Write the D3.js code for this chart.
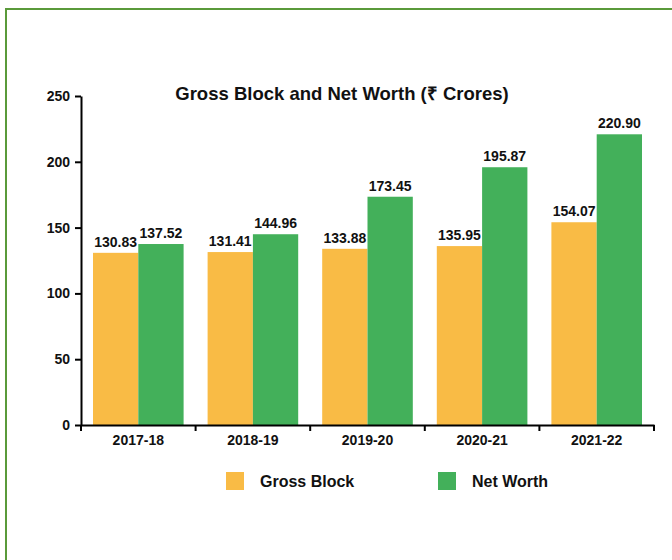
<!DOCTYPE html>
<html>
<head>
<meta charset="utf-8">
<script src="https://cdn.jsdelivr.net/npm/d3@7"></script>
<style>
  body { margin: 0; background: #fff; }
  text { font-family: "Liberation Sans", Arial, sans-serif; font-weight: bold; fill: #111; }
</style>
</head>
<body>
<svg id="chart"></svg>
<script>
const years = ["2017-18", "2018-19", "2019-20", "2020-21", "2021-22"];
const seriesNames = ["Gross Block", "Net Worth"];
const grossBlock = [130.83, 131.41, 133.88, 135.95, 154.07];
const netWorth = [137.52, 144.96, 173.45, 195.87, 220.90];
const yTicks = [0, 50, 100, 150, 200, 250];
const colors = ["#f9bb45", "#43b05a"];

const margin = { top: 96, left: 81, right: 18, bottom: 135 };

const svg = d3.select("#chart").attr("width", 672).attr("height", 560);

// outer frame, open to the right and bottom like the source
svg.append("rect")
  .attr("x", 6).attr("y", 9)
  .attr("width", 720).attr("height", 620)
  .attr("fill", "none")
  .attr("stroke", "#5a9a3a")
  .attr("stroke-width", 2);

const g = svg.append("g").attr("transform", `translate(${margin.left},${margin.top})`);

const x0 = d3.scaleBand().domain(years).range([0, 573]);
const x1 = d3.scaleBand().domain(seriesNames).range([12, x0.bandwidth() - 12]);
const y = d3.scaleLinear().domain([0, 250]).range([329, 0]);

const rows = years.map((yr, i) => ({ year: yr, values: [grossBlock[i], netWorth[i]] }));

const groups = g.selectAll(".grp")
  .data(rows)
  .enter().append("g")
  .attr("transform", d => `translate(${x0(d.year)},0)`);

groups.selectAll("rect")
  .data(d => d.values.map((v, k) => ({ key: seriesNames[k], v, k })))
  .enter().append("rect")
  .attr("x", d => x1(d.key))
  .attr("y", d => y(d.v))
  .attr("width", x1.bandwidth())
  .attr("height", d => y(0) - y(d.v))
  .attr("fill", d => colors[d.k]);

groups.selectAll(".lbl")
  .data(d => d.values.map((v, k) => ({ key: seriesNames[k], v, k })))
  .enter().append("text")
  .attr("x", d => x1(d.key) + x1.bandwidth() / 2)
  .attr("y", d => y(d.v) - 6)
  .attr("text-anchor", "middle")
  .style("font-size", "14px")
  .text(d => d.v.toFixed(2));

// axes
const xAxis = g.append("g")
  .attr("transform", `translate(0,${y(0)})`)
  .call(d3.axisBottom(x0).tickSizeInner(0).tickSizeOuter(0));
xAxis.select(".domain").attr("stroke", "#000").attr("stroke-width", 2);
xAxis.selectAll("text").style("font-size", "14px").attr("dy", "1.2em");

// category boundary ticks
g.selectAll(".btick")
  .data(years.concat(["end"]))
  .enter().append("line")
  .attr("x1", (d, i) => i < years.length ? x0(d) : x0.range()[1])
  .attr("x2", (d, i) => i < years.length ? x0(d) : x0.range()[1])
  .attr("y1", y(0)).attr("y2", y(0) + 6)
  .attr("stroke", "#000").attr("stroke-width", 2);

const yAxis = g.append("g")
  .call(d3.axisLeft(y).tickValues(yTicks).tickSize(6).tickSizeOuter(0).tickPadding(5));
yAxis.select(".domain").attr("stroke", "#000").attr("stroke-width", 2);
yAxis.selectAll("line").attr("stroke", "#000").attr("stroke-width", 2);
yAxis.selectAll("text").style("font-size", "14px");

// title
svg.append("text")
  .attr("x", 342).attr("y", 100)
  .attr("text-anchor", "middle")
  .style("font-size", "18.5px")
  .text("Gross Block and Net Worth (₹ Crores)");

// legend
const legendX = [226, 438];
const legend = svg.selectAll(".legend")
  .data(seriesNames)
  .enter().append("g")
  .attr("transform", (d, i) => `translate(${legendX[i]},472)`);

legend.append("rect")
  .attr("width", 18).attr("height", 18)
  .attr("fill", (d, i) => colors[i]);

legend.append("text")
  .attr("x", 34).attr("y", 9)
  .attr("dy", ".35em")
  .style("font-size", "16px")
  .text(d => d);
</script>
</body>
</html>
